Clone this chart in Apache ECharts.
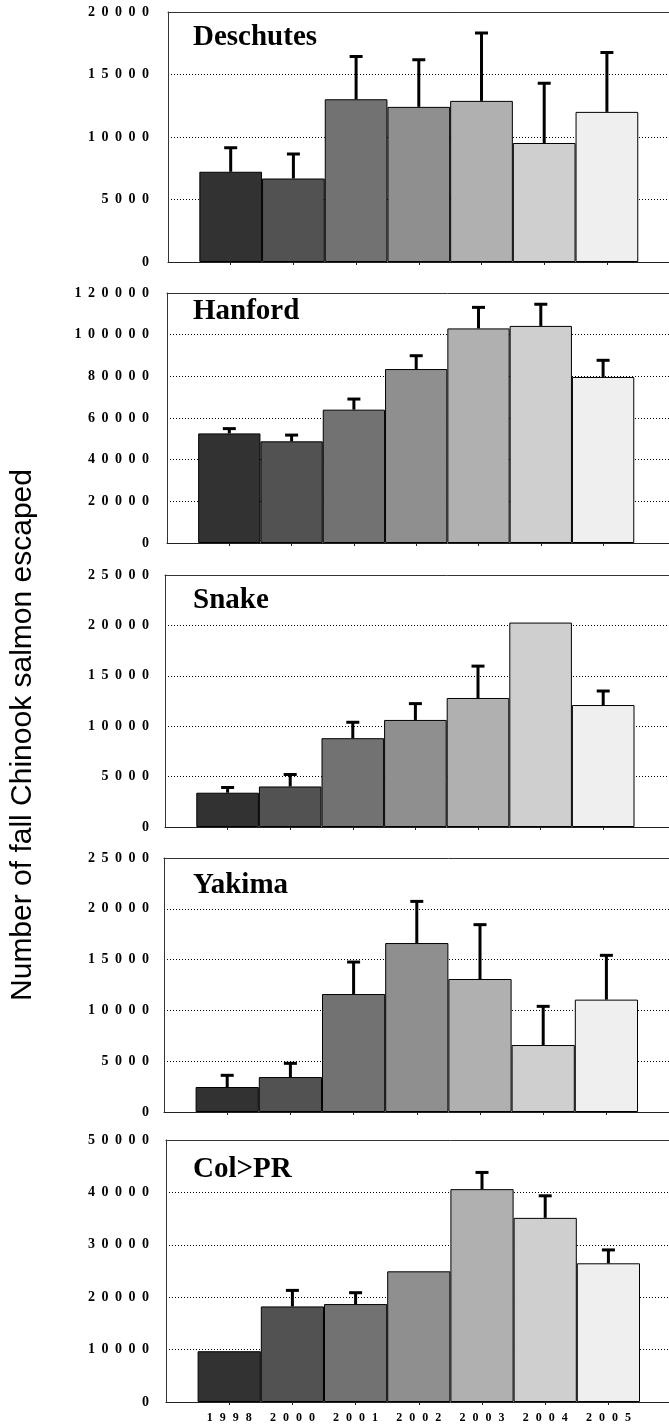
<!DOCTYPE html>
<html>
<head>
<meta charset="utf-8">
<script src="https://cdn.jsdelivr.net/npm/echarts@6/dist/echarts.min.js"></script>
<style>
html,body{margin:0;padding:0;background:#fff;overflow:hidden;width:669px;height:1426px;}
#chart{width:780px;height:1426px;}
</style>
</head>
<body>
<div id="chart"></div>
<script>
// ---- data ----
const years = ['1998', '2000', '2001', '2002', '2003', '2004', '2005'];
const panelNames = ['Deschutes', 'Hanford', 'Snake', 'Yakima', 'Col>PR'];
const axisTitle = 'Number of fall Chinook salmon escaped';

const deschutesValues = [7220, 6680, 13020, 12410, 12890, 9520, 12010];
const deschutesErrors = [1920, 1960, 3420, 3770, 5430, 4780, 4750];
const hanfordValues = [52600, 48800, 64000, 83500, 103000, 104200, 79700];
const hanfordErrors = [2300, 3000, 5100, 6400, 10100, 10400, 8000];
const snakeValues = [3400, 4020, 8810, 10620, 12800, 20280, 12100];
const snakeErrors = [520, 1190, 1580, 1620, 3160, null, 1390];
const yakimaValues = [2460, 3440, 11610, 16630, 13090, 6590, 11060];
const yakimaErrors = [1150, 1350, 3150, 4100, 5350, 3810, 4360];
const colPRValues = [9690, 18240, 18690, 24940, 40620, 35140, 26470];
const colPRErrors = [null, 3060, 2170, null, 3190, 4210, 2550];

const yMax = [20000, 120000, 25000, 25000, 50000];
const yInterval = [5000, 20000, 5000, 5000, 10000];

// ---- layout / style ----
const layout = [
  {left: 168, top: 12, height: 250, w: 62.7, titleY: 37.5},
  {left: 167, top: 293, height: 250, w: 62.3, titleY: 312},
  {left: 165, top: 575, height: 252, w: 62.6, titleY: 601},
  {left: 164, top: 858, height: 254, w: 63.2, titleY: 886},
  {left: 166, top: 1140, height: 262, w: 63.2, titleY: 1169.5}
];
const barColors = ['#323232', '#525252', '#727272', '#8f8f8f', '#b0b0b0', '#cfcfcf', '#efefef'];
const SERIF = '"Liberation Serif", "Times New Roman", serif';
const SANS = '"Liberation Sans", Arial, sans-serif';

const allValues = [deschutesValues, hanfordValues, snakeValues, yakimaValues, colPRValues];
const allErrors = [deschutesErrors, hanfordErrors, snakeErrors, yakimaErrors, colPRErrors];
const categories = [''].concat(years, ['', '']);

function spaced(s, key) {
  s = String(s);
  if (!s) return '';
  let out = '';
  for (let i = 0; i < s.length - 1; i++) out += '{' + key + '|' + s[i] + '}';
  return out + s[s.length - 1];
}

const grids = [], xAxes = [], yAxes = [], series = [], graphics = [];
layout.forEach((L, i) => {
  grids.push({left: L.left, top: L.top, height: L.height, width: L.w * 9, containLabel: false, show: false, outerBoundsMode: 'none'});
  const isLast = i === layout.length - 1;
  xAxes.push({
    type: 'category', gridIndex: i, data: categories, boundaryGap: false, position: 'bottom',
    axisLine: {show: true, lineStyle: {color: '#222', width: 1}},
    axisTick: {show: true, length: 3, interval: (idx) => idx >= 1 && idx <= 7, lineStyle: {color: '#222'}},
    axisLabel: {
      show: isLast, interval: 0, margin: 10, color: '#000',
      fontFamily: SERIF, fontWeight: 'bold', fontSize: 12,
      formatter: (v) => spaced(v, 'x'),
      rich: {x: {width: 13, align: 'left', fontFamily: SERIF, fontWeight: 'bold', fontSize: 12, color: '#000'}}
    },
    splitLine: {show: false}
  });
  xAxes.push({
    type: 'category', gridIndex: i, data: categories, boundaryGap: false, position: 'top',
    axisLine: {show: true, lineStyle: {color: '#333', width: 1}},
    axisTick: {show: false}, axisLabel: {show: false}, splitLine: {show: false}
  });
  yAxes.push({
    type: 'value', gridIndex: i, min: 0, max: yMax[i], interval: yInterval[i],
    axisLine: {show: true, lineStyle: {color: '#333', width: 1}},
    axisTick: {show: false},
    axisLabel: {
      margin: L.left - 149, color: '#000', fontFamily: SERIF, fontWeight: 'bold', fontSize: 14,
      formatter: (v) => spaced(v, 'd'),
      rich: {d: {width: 13.5, align: 'left', fontFamily: SERIF, fontWeight: 'bold', fontSize: 14, color: '#000'}}
    },
    splitLine: {show: true, lineStyle: {color: '#000', width: 1, type: [1, 2]}}
  });
  const vals = allValues[i], errs = allErrors[i];
  series.push({
    type: 'bar', xAxisIndex: i * 2, yAxisIndex: i,
    barWidth: L.w, barGap: '0%',
    data: ['-'].concat(vals, ['-', '-']),
    itemStyle: {
      color: (p) => barColors[p.dataIndex - 1] || '#fff',
      borderColor: '#000', borderWidth: 1
    },
    z: 2
  });
  series.push({
    type: 'custom', xAxisIndex: i * 2, yAxisIndex: i, z: 5,
    encode: {x: 0, y: 1},
    data: vals.map((v, k) => [k + 1, v, errs[k] == null ? 0 : errs[k]]),
    renderItem: function (params, api) {
      const x = api.value(0), v = api.value(1), e = api.value(2);
      if (!e) return null;
      const p0 = api.coord([x, v]);
      const p1 = api.coord([x, v + e]);
      const half = 6.5;
      return {
        type: 'group',
        children: [
          {type: 'line', shape: {x1: p0[0], y1: p0[1], x2: p1[0], y2: p1[1]}, style: {stroke: '#000', lineWidth: 3}},
          {type: 'line', shape: {x1: p1[0] - half, y1: p1[1], x2: p1[0] + half, y2: p1[1]}, style: {stroke: '#000', lineWidth: 3}}
        ]
      };
    }
  });
  graphics.push({
    type: 'text', left: 193, top: L.titleY - 14.5,
    style: {text: panelNames[i], font: 'bold 29px ' + SERIF, fill: '#000'}
  });
});

graphics.push({
  type: 'text', x: 23, y: 735, rotation: Math.PI / 2,
  style: {text: axisTitle, font: '30px ' + SANS, fill: '#000', align: 'center', verticalAlign: 'middle'}
});

const chart = echarts.init(document.getElementById('chart'), null, {renderer: 'canvas'});
chart.setOption({
  animation: false,
  backgroundColor: '#fff',
  grid: grids,
  xAxis: xAxes,
  yAxis: yAxes,
  series: series,
  graphic: graphics
});
</script>
</body>
</html>
